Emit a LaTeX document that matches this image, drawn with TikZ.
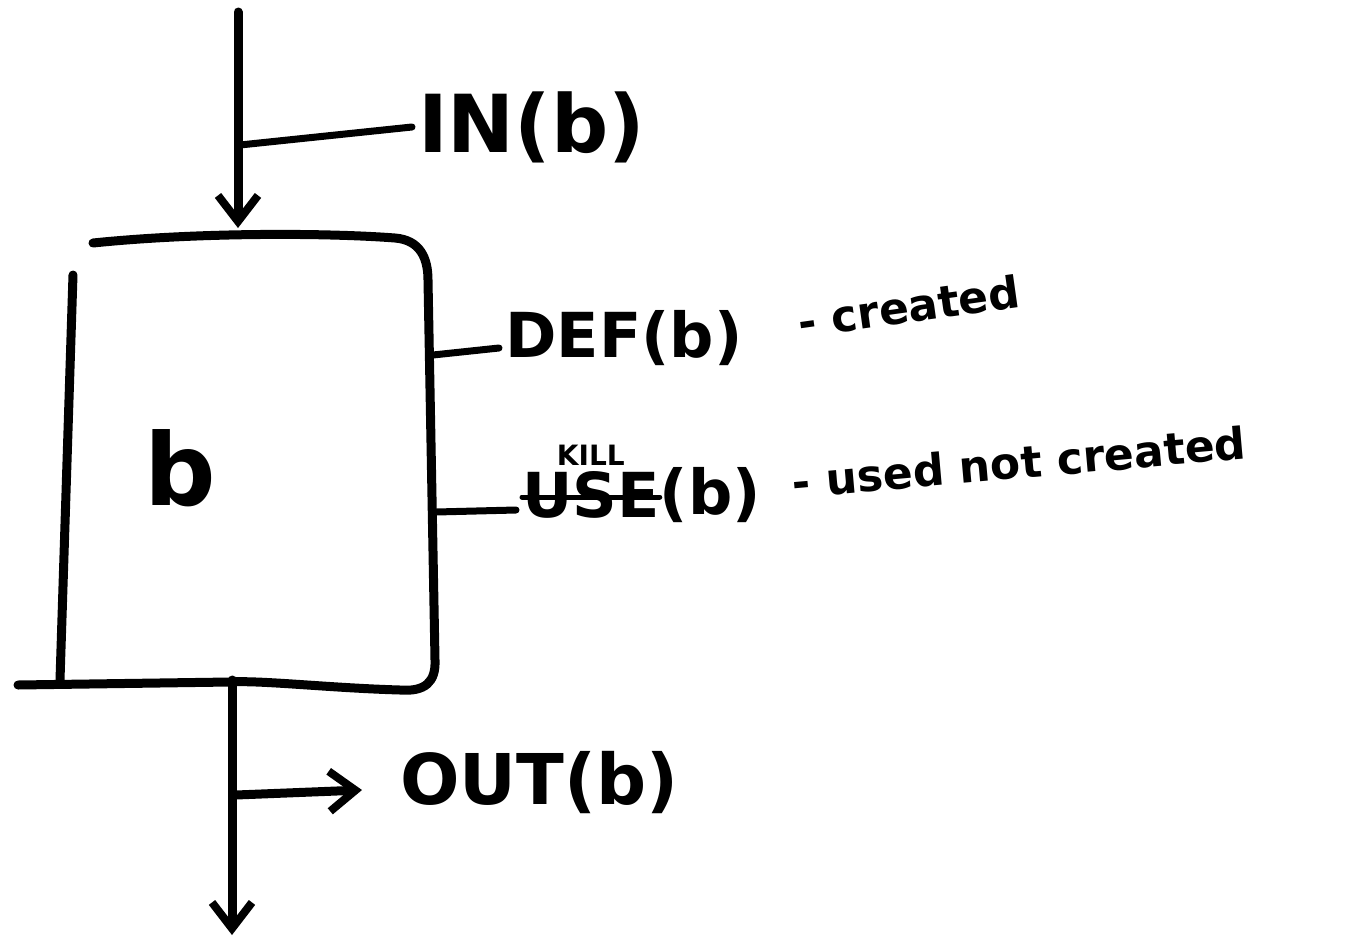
\documentclass[tikz,border=0pt]{standalone}
\usepackage{fontspec}
\setmainfont{DejaVu Sans}
\usetikzlibrary{arrows.meta}
\begin{document}
\begin{tikzpicture}[x=1pt,y=-1pt,
  pen/.style={line width=9pt,line cap=round,line join=round},
  thin pen/.style={line width=7pt,line cap=round},
  tip/.style={-{Straight Barb[length=26pt,width=40pt,line width=8pt]}},
  big/.style={font=\fontsize{80}{82}\selectfont\bfseries,inner sep=0pt},
  mid/.style={font=\fontsize{62}{64}\selectfont\bfseries,inner sep=0pt},
  small/.style={font=\fontsize{44}{46}\selectfont\bfseries,inner sep=0pt},
  tiny/.style={font=\fontsize{28}{30}\selectfont\bfseries,inner sep=0pt}]
\useasboundingbox (0,0) rectangle (1347,940);
% block
\draw[pen] (93,243) .. controls (200,232) and (330,233) .. (395,238)
  .. controls (420,240) and (428,258) .. (428,280)
  -- (435,660) .. controls (436,682) and (425,692) .. (400,690)
  .. controls (330,688) and (260,680) .. (230,682) -- (18,685);
\draw[pen] (73,275) -- (60,680);
\node[font=\fontsize{100}{100}\selectfont\bfseries,inner sep=0pt] (b) at (180,468) {b};
% input arrow
\coordinate (intop) at (238,12);
\coordinate (inend) at (238,228);
\coordinate (inbr) at (240,145);
\draw[pen,tip] (intop) -- (inend);
\node[big,anchor=west] (in) at (418,127) {IN(b)};
\draw[thin pen] (inbr) -- ([xshift=-6pt]in.west);
% DEF
\coordinate (defp) at (433,355);
\node[mid,anchor=west] (def) at (505,338) {DEF(b)};
\draw[thin pen] (defp) -- ([xshift=-6pt,yshift=-10pt]def.west);
\node[small,anchor=west,rotate=8] (created) at (798,322) {- created};
% USE / KILL
\coordinate (usep) at (436,512);
\node[mid,anchor=west] (use) at (522,495) {USE};
\node[mid,anchor=west,inner sep=0pt] (useb) at (use.east) {(b)};
\draw[thin pen] (usep) -- ([xshift=-6pt,yshift=-15pt]use.west);
\draw[line width=5pt,line cap=round] ([yshift=-2pt]use.west) -- ([yshift=-2pt]use.east);
\node[tiny,anchor=south] (kill) at ([yshift=6pt]use.north) {KILL};
\node[small,anchor=west,rotate=5] (used) at (792,482) {- used not created};
% output arrow
\coordinate (outtop) at (232,680);
\coordinate (outend) at (232,935);
\coordinate (outbr) at (236,795);
\draw[pen,tip] (outtop) -- (outend);
\node[big,anchor=west,font=\fontsize{70}{72}\selectfont\bfseries] (out) at (400,783) {OUT(b)};
\coordinate (outtip) at (362,790);
\draw[pen,tip] (outbr) -- (outtip);
\end{tikzpicture}
\end{document}
